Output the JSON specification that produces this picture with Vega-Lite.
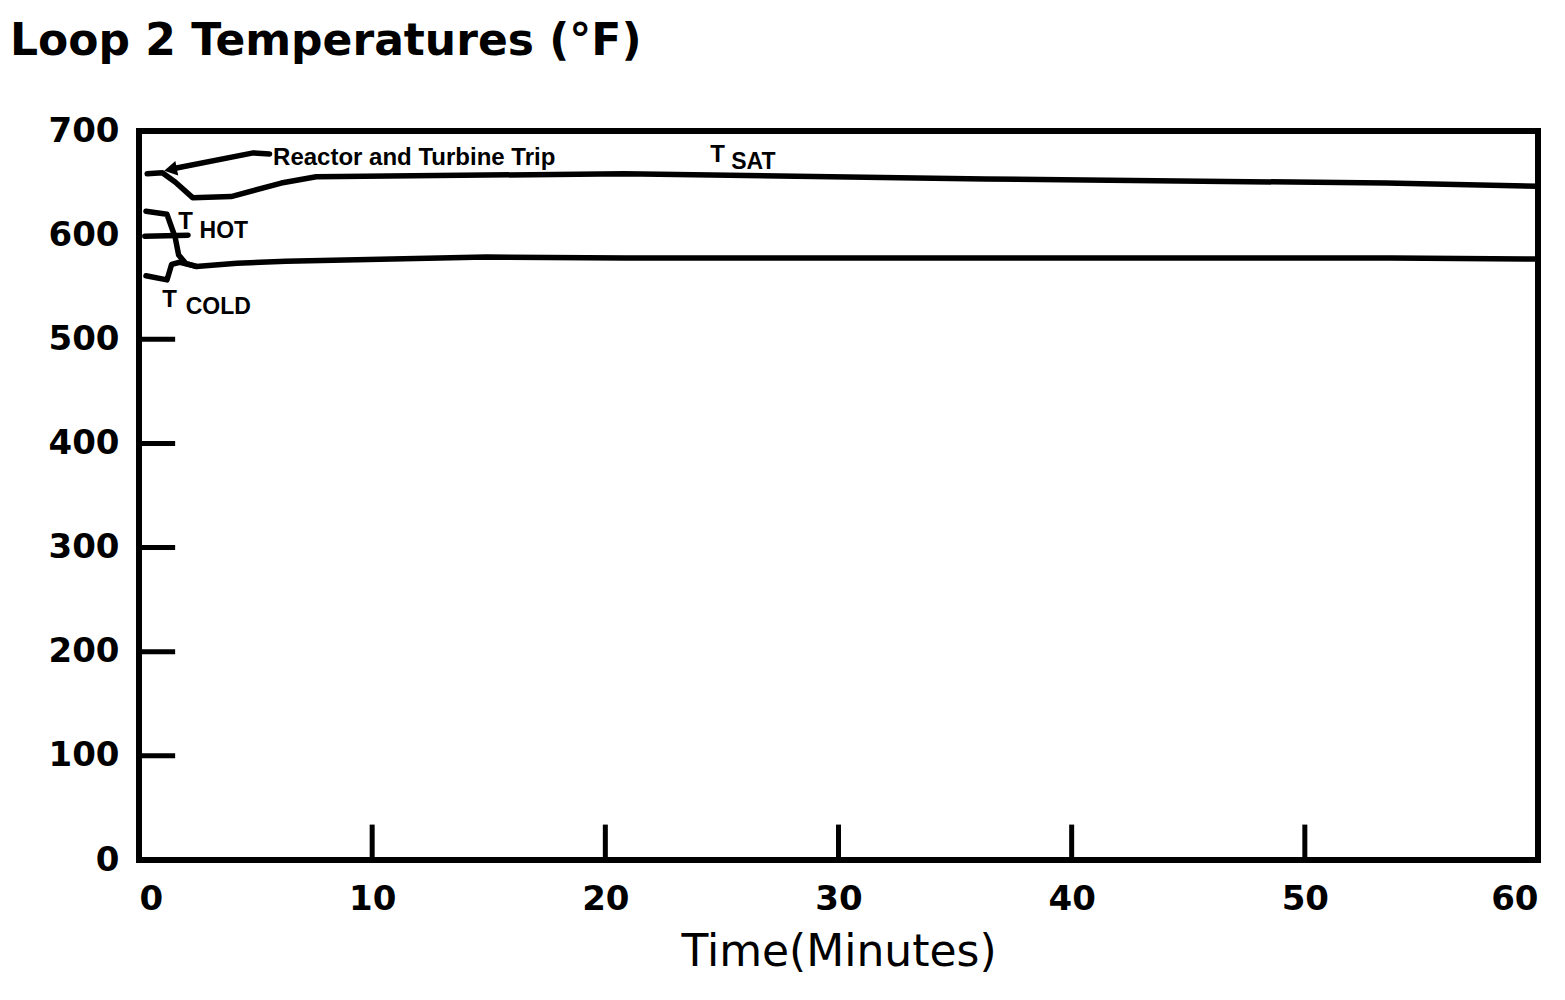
{
  "$schema": "https://vega.github.io/schema/vega-lite/v6.json",
  "autosize": {"type": "none"},
  "width": 1399,
  "height": 729,
  "padding": {"left": 139, "top": 131, "right": 27, "bottom": 140},
  "background": "white",
  "config": {
    "view": {"stroke": "black", "strokeWidth": 6},
    "axis": {"grid": false, "ticks": false, "domain": false, "labelColor": "black", "titleColor": "black"}
  },
  "title": {
    "text": "Loop 2 Temperatures (°F)",
    "anchor": "start",
    "frame": "group",
    "dx": -129,
    "offset": 50,
    "font": "DejaVu Sans",
    "fontSize": 44,
    "fontWeight": "bold",
    "color": "black"
  },
  "datasets": {
    "lines": [
      {"series": "T SAT", "t": 0.35, "temp": 659},
      {"series": "T SAT", "t": 1.0, "temp": 660},
      {"series": "T SAT", "t": 1.55, "temp": 651},
      {"series": "T SAT", "t": 2.3, "temp": 636},
      {"series": "T SAT", "t": 3.95, "temp": 637},
      {"series": "T SAT", "t": 6.1, "temp": 650},
      {"series": "T SAT", "t": 7.6, "temp": 656},
      {"series": "T SAT", "t": 20.8, "temp": 659},
      {"series": "T SAT", "t": 36.3, "temp": 654},
      {"series": "T SAT", "t": 53.5, "temp": 650},
      {"series": "T SAT", "t": 60, "temp": 647},
      {"series": "T HOT", "t": 0.3, "temp": 623},
      {"series": "T HOT", "t": 1.2, "temp": 620},
      {"series": "T HOT", "t": 1.55, "temp": 598},
      {"series": "T HOT", "t": 1.7, "temp": 581},
      {"series": "T HOT", "t": 2.0, "temp": 573},
      {"series": "T HOT", "t": 2.45, "temp": 570},
      {"series": "T HOT", "t": 4.2, "temp": 573},
      {"series": "T HOT", "t": 6.3, "temp": 575},
      {"series": "T HOT", "t": 14.9, "temp": 579},
      {"series": "T HOT", "t": 20.9, "temp": 578},
      {"series": "T HOT", "t": 36.5, "temp": 578},
      {"series": "T HOT", "t": 53.7, "temp": 578},
      {"series": "T HOT", "t": 60, "temp": 577},
      {"series": "T COLD", "t": 0.3, "temp": 561},
      {"series": "T COLD", "t": 1.2, "temp": 557},
      {"series": "T COLD", "t": 1.4, "temp": 572},
      {"series": "T COLD", "t": 1.75, "temp": 574},
      {"series": "T COLD", "t": 2.45, "temp": 570},
      {"series": "leader", "t": 0.25, "temp": 599},
      {"series": "leader", "t": 2.1, "temp": 600},
      {"series": "arrow", "t": 1.5, "temp": 664},
      {"series": "arrow", "t": 4.9, "temp": 679},
      {"series": "arrow", "t": 5.6, "temp": 678}
    ]
  },
  "layer": [
    {
      "data": {"name": "lines"},
      "mark": {"type": "line", "color": "black", "strokeWidth": 5.5, "strokeJoin": "round", "strokeCap": "round"},
      "encoding": {
        "x": {
          "field": "t", "type": "quantitative",
          "scale": {"domain": [0, 60], "nice": false, "zero": false},
          "axis": {
            "values": [0, 10, 20, 30, 40, 50, 60],
            "title": "Time(Minutes)",
            "titleFont": "DejaVu Sans", "titleFontSize": 44, "titleFontWeight": "normal",
            "titlePadding": 14,
            "labelFont": "DejaVu Sans", "labelFontSize": 34, "labelFontWeight": "bold",
            "labelPadding": 22
          }
        },
        "y": {
          "field": "temp", "type": "quantitative",
          "scale": {"domain": [0, 700], "nice": false},
          "axis": {
            "values": [0, 100, 200, 300, 400, 500, 600, 700],
            "title": null,
            "labelFont": "DejaVu Sans", "labelFontSize": 34, "labelFontWeight": "bold",
            "labelPadding": 20
          }
        },
        "detail": {"field": "series"}
      }
    },
    {
      "data": {"values": [{"t": 10}, {"t": 20}, {"t": 30}, {"t": 40}, {"t": 50}]},
      "mark": {"type": "rule", "color": "black", "strokeWidth": 5},
      "encoding": {
        "x": {"field": "t", "type": "quantitative"},
        "y": {"datum": 0},
        "y2": {"datum": 34}
      }
    },
    {
      "data": {"values": [{"temp": 100}, {"temp": 200}, {"temp": 300}, {"temp": 400}, {"temp": 500}]},
      "mark": {"type": "rule", "color": "black", "strokeWidth": 5},
      "encoding": {
        "y": {"field": "temp", "type": "quantitative"},
        "x": {"datum": 0},
        "x2": {"datum": 1.55}
      }
    },
    {
      "data": {"values": [{"t": 1.35, "temp": 663}]},
      "mark": {"type": "point", "shape": "triangle-left", "filled": true, "color": "black", "size": 220, "angle": 349, "opacity": 1},
      "encoding": {
        "x": {"field": "t", "type": "quantitative"},
        "y": {"field": "temp", "type": "quantitative"}
      }
    },
    {
      "data": {"values": [
        {"label": "Reactor and Turbine Trip", "t": 5.75, "temp": 674},
        {"label": "T", "t": 24.5, "temp": 677},
        {"label": "T", "t": 1.68, "temp": 613},
        {"label": "T", "t": 1.0, "temp": 538}
      ]},
      "mark": {"type": "text", "align": "left", "baseline": "middle", "font": "Liberation Sans", "fontSize": 24, "fontWeight": "bold", "color": "black"},
      "encoding": {
        "x": {"field": "t", "type": "quantitative"},
        "y": {"field": "temp", "type": "quantitative"},
        "text": {"field": "label"}
      }
    },
    {
      "data": {"values": [
        {"label": "SAT", "t": 25.4, "temp": 670},
        {"label": "HOT", "t": 2.6, "temp": 604},
        {"label": "COLD", "t": 2.0, "temp": 531}
      ]},
      "mark": {"type": "text", "align": "left", "baseline": "middle", "font": "Liberation Sans", "fontSize": 23, "fontWeight": "bold", "color": "black"},
      "encoding": {
        "x": {"field": "t", "type": "quantitative"},
        "y": {"field": "temp", "type": "quantitative"},
        "text": {"field": "label"}
      }
    }
  ]
}
